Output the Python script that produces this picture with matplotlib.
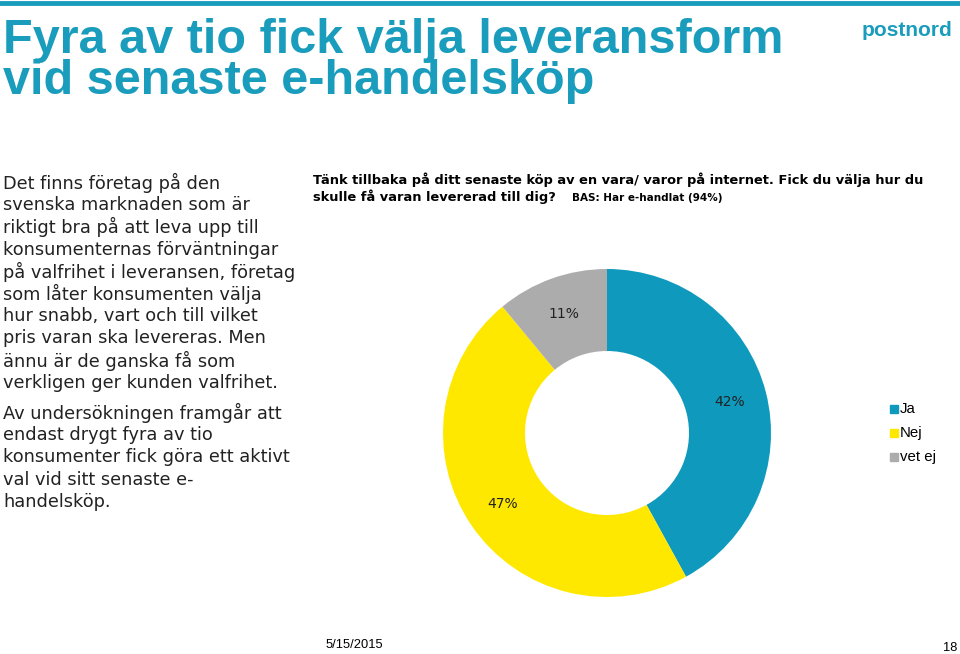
import matplotlib
matplotlib.use("Agg")
import matplotlib.pyplot as plt
import numpy as np
from matplotlib.lines import Line2D
from matplotlib.patches import Rectangle

# data
kategorier = ["Ja", "Nej", "vet ej"]
andelar = [42, 47, 11]
etiketter = ["42%", "47%", "11%"]
farger = ["#0f9abd", "#ffe800", "#acacac"]

TEAL = "#1a9cbc"

titel = "Fyra av tio fick välja leveransform\nvid senaste e-handelsköp"
stycke1 = ["Det finns företag på den",
           "svenska marknaden som är",
           "riktigt bra på att leva upp till",
           "konsumenternas förväntningar",
           "på valfrihet i leveransen, företag",
           "som låter konsumenten välja",
           "hur snabb, vart och till vilket",
           "pris varan ska levereras. Men",
           "ännu är de ganska få som",
           "verkligen ger kunden valfrihet."]
stycke2 = ["Av undersökningen framgår att",
           "endast drygt fyra av tio",
           "konsumenter fick göra ett aktivt",
           "val vid sitt senaste e-",
           "handelsköp."]

W, H = 960, 654
fig = plt.figure(figsize=(W / 100, H / 100), dpi=100)
fig.patch.set_facecolor("white")


def fx(px):
    return px / W


def fy(py):
    return 1 - py / H


# top line
fig.add_artist(Line2D([0, 1], [fy(3), fy(3)], color=TEAL, lw=3.5))

# title
fig.text(fx(3), fy(18), titel, color=TEAL, fontsize=35, fontweight="bold",
         family=["Liberation Sans", "DejaVu Sans"], va="top", ha="left",
         linespacing=0.9)

# logo
fig.text(fx(862), fy(31), "postnord", color=TEAL, fontsize=15, fontweight="bold",
         family=["Liberation Sans", "DejaVu Sans"], va="center", ha="left")

# left text
y = 183
for rad in stycke1:
    fig.text(fx(3), fy(y), rad, fontsize=12.8, color="#222222", va="center", ha="left",
             family=["DejaVu Sans"])
    y += 22.2
y = 413
for rad in stycke2:
    fig.text(fx(3), fy(y), rad, fontsize=12.8, color="#222222", va="center", ha="left",
             family=["DejaVu Sans"])
    y += 22.2

# question
fig.text(fx(313), fy(180), "Tänk tillbaka på ditt senaste köp av en vara/ varor på internet. Fick du välja hur du",
         fontsize=9.4, fontweight="bold", va="center", ha="left", family=["DejaVu Sans"])
fig.text(fx(313), fy(197), "skulle få varan levererad till dig?",
         fontsize=9.4, fontweight="bold", va="center", ha="left", family=["DejaVu Sans"])
fig.text(fx(572), fy(198), "BAS: Har e-handlat (94%)",
         fontsize=7.5, fontweight="bold", va="center", ha="left", family=["DejaVu Sans"])

# donut
cx, cy, r = 607, 433, 164
ax = fig.add_axes([fx(cx - r), fy(cy + r), (2 * r) / W, (2 * r) / H])
wedges, _ = ax.pie(andelar, colors=farger, startangle=90, counterclock=False,
                   radius=1, wedgeprops=dict(width=0.5, linewidth=0))
for w, lab in zip(wedges, etiketter):
    ang = np.deg2rad((w.theta1 + w.theta2) / 2)
    ax.text(0.77 * np.cos(ang), 0.77 * np.sin(ang), lab, ha="center", va="center",
            fontsize=10, color="#222222")
ax.set_xlim(-1, 1)
ax.set_ylim(-1, 1)
ax.set_aspect("equal")
ax.axis("off")

# legend
for i, (kat, f) in enumerate(zip(kategorier, farger)):
    yy = 409 + i * 24
    fig.add_artist(Rectangle((fx(890), fy(yy + 4)), fx(8), 8 / H, color=f,
                             transform=fig.transFigure))
    fig.text(fx(900), fy(yy), kat, fontsize=10.8, va="center", ha="left",
             family=["Liberation Sans", "DejaVu Sans"])

# footer
fig.text(fx(326), fy(645), "5/15/2015", fontsize=9.3, va="center", ha="left",
         family=["Liberation Sans", "DejaVu Sans"])
fig.text(fx(957), fy(648), "18", fontsize=9.3, va="center", ha="right",
         family=["Liberation Sans", "DejaVu Sans"])

fig.savefig("out.png", dpi=100)
